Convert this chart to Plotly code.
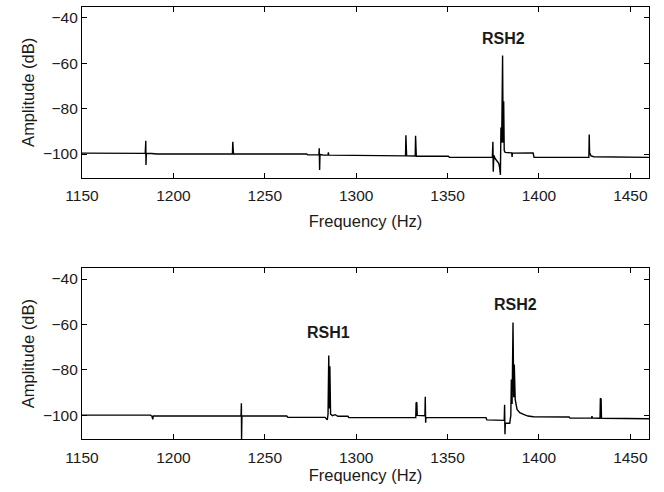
import plotly.graph_objects as go
from plotly.subplots import make_subplots

# Spectrum before (upper panel) — frequency in Hz, amplitude in dB
freq_a = [1150, 1184.6, 1184.9, 1185.0, 1185.2, 1188, 1191, 1232.3, 1232.5, 1232.8,
          1233.0, 1273, 1273.5, 1279.6, 1279.8, 1280.0, 1280.2, 1282, 1284.6, 1284.8,
          1285.0, 1327.0, 1327.2, 1327.4, 1327.6, 1332.3, 1332.5, 1332.7, 1332.9, 1350.5,
          1351, 1374.5, 1374.8, 1375.0, 1375.3, 1376, 1378, 1378.5, 1378.9, 1379.2,
          1379.6, 1380.1, 1380.4, 1380.7, 1381.0, 1381.5, 1385.1, 1385.3, 1385.5, 1396.8,
          1397.3, 1427.3, 1427.5, 1427.7, 1428.5, 1430, 1460.2]
amp_a = [-99.6, -99.7, -94.2, -104.8, -99.8, -99.8, -100.0, -100.0, -94.6, -99.2,
         -100.0, -100.0, -100.4, -100.4, -97.5, -107.0, -100.2, -100.5, -100.5, -99.3,
         -100.5, -100.8, -91.8, -96.5, -100.8, -100.9, -92.0, -97.0, -101.0, -101.0,
         -101.5, -101.5, -94.6, -107.8, -100.5, -102.0, -104.1, -106.0, -109.2, -88.3,
         -95.0, -56.6, -95.0, -76.8, -98.5, -99.3, -99.5, -101.3, -99.6, -99.5,
         -101.5, -101.5, -91.4, -99.5, -100.8, -101.2, -101.5]

# Spectrum after (lower panel)
freq_b = [1150, 1187.5, 1188.3, 1188.7, 1189.0, 1237.0, 1237.2, 1237.3, 1237.5, 1262,
          1262.6, 1283.0, 1283.5, 1284.2, 1284.6, 1285.0, 1285.3, 1285.6, 1286.0, 1287,
          1288.5, 1290, 1295.5, 1296, 1332.6, 1332.8, 1333.2, 1333.4, 1337.6, 1337.8,
          1338.0, 1338.2, 1371, 1371.5, 1381.0, 1381.2, 1381.4, 1381.6, 1384.0, 1384.6,
          1384.9, 1385.3, 1385.8, 1386.2, 1386.5, 1387.0, 1388, 1389.5, 1391.6, 1394,
          1397, 1416.5, 1417, 1428.8, 1429.0, 1429.2, 1433.4, 1433.6, 1433.8, 1434.0,
          1434.2, 1460.2]
amp_b = [-99.9, -99.9, -100.4, -101.8, -100.3, -100.3, -94.7, -110.5, -100.3, -100.3,
         -100.8, -100.9, -101.4, -102.0, -99.5, -73.7, -97.0, -78.4, -99.5, -100.1,
         -99.7, -100.4, -100.4, -101.0, -101.0, -94.3, -94.5, -100.0, -100.2, -91.8,
         -103.2, -101.0, -101.0, -102.0, -102.2, -95.3, -108.3, -103.5, -103.5, -100.0,
         -84.2, -95.0, -59.1, -92.0, -77.6, -93.0, -97.4, -98.8, -99.6, -100.3,
         -100.6, -100.7, -101.2, -101.2, -100.3, -101.2, -101.3, -92.5, -99.0, -92.8,
         -101.3, -101.5]

# Harmonic labels: (panel row, frequency, amplitude, text)
label_row = [1, 2, 2]
label_freq = [1380.8, 1284.7, 1387.2]
label_amp = [-49.3, -63.6, -51.0]
label_text = ["RSH2", "RSH1", "RSH2"]

x_ticks = [1150, 1200, 1250, 1300, 1350, 1400, 1450]
y_ticks = [-100, -80, -60, -40]
x_range = [1150, 1460.2]
y_range = [-110.4, -35.3]

FONT = "Liberation Sans, Arial, sans-serif"
TXT = "#1a1a1a"

fig = make_subplots(rows=2, cols=1, vertical_spacing=0.21)
fig.add_trace(go.Scatter(x=freq_a, y=amp_a, mode="lines",
                         line=dict(color="black", width=1.4)), row=1, col=1)
fig.add_trace(go.Scatter(x=freq_b, y=amp_b, mode="lines",
                         line=dict(color="black", width=1.4)), row=2, col=1)

for r, f, a, t in zip(label_row, label_freq, label_amp, label_text):
    fig.add_annotation(x=f, y=a, text="<b>%s</b>" % t, showarrow=False,
                       font=dict(family=FONT, size=16, color=TXT),
                       row=r, col=1)

axis_common = dict(showline=True, linecolor="black", linewidth=1.2, mirror="ticks",
                   ticks="inside", ticklen=5, tickwidth=1, tickcolor="black",
                   showgrid=False, zeroline=False,
                   tickfont=dict(family=FONT, size=15.5, color=TXT))

for r, standoff in ((1, 12), (2, 3)):
    fig.update_xaxes(range=x_range, tickvals=x_ticks, ticklabelstandoff=4,
                     title=dict(text="Frequency (Hz)", standoff=standoff,
                                font=dict(family=FONT, size=16.5, color=TXT)),
                     row=r, col=1, **axis_common)
    fig.update_yaxes(range=y_range, tickvals=y_ticks,
                     title=dict(text="Amplitude (dB)", standoff=4,
                                font=dict(family=FONT, size=16.5, color=TXT)),
                     row=r, col=1, **axis_common)

fig.update_layout(
    width=664, height=492,
    margin=dict(l=82, r=15, t=7, b=53),
    paper_bgcolor="white", plot_bgcolor="white",
    showlegend=False,
    xaxis=dict(domain=[0, 1]), xaxis2=dict(domain=[0, 1]),
    yaxis=dict(domain=[0.605, 1.0]), yaxis2=dict(domain=[0.0, 0.395]),
)

fig.write_html("out.html")
